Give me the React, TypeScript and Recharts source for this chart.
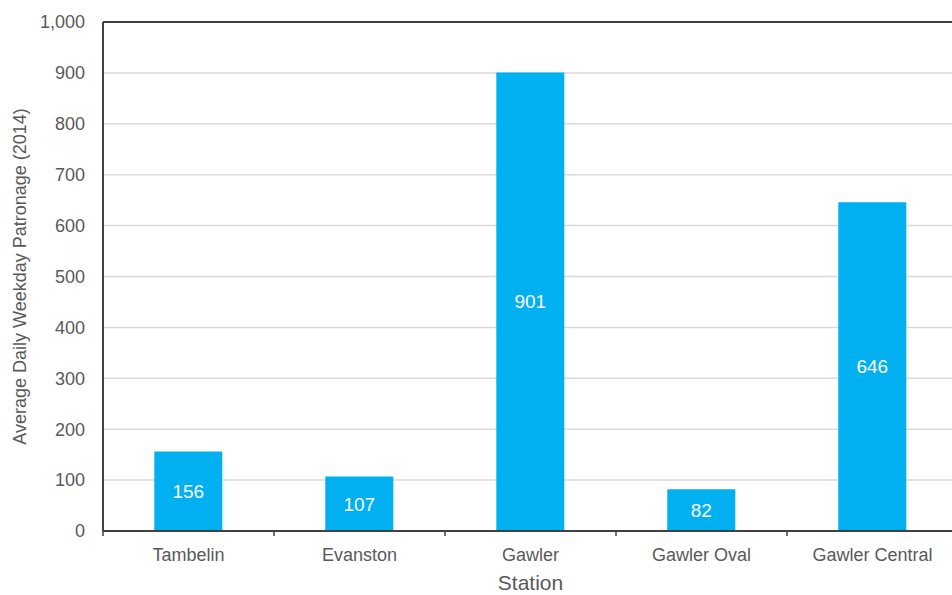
import React from 'react';
import { BarChart, Bar, XAxis, YAxis, CartesianGrid, LabelList, ReferenceLine, Label } from 'recharts';

const stations = ['Tambelin', 'Evanston', 'Gawler', 'Gawler Oval', 'Gawler Central'];
const patronage = [156, 107, 901, 82, 646];
const yTicks = [0, 100, 200, 300, 400, 500, 600, 700, 800, 900, 1000];

const data = stations.map((name, i) => ({ name, value: patronage[i] }));

const TEXT = '#595959';
const AXIS = '#404040';
const FONT = '"Liberation Sans", Arial, sans-serif';
const GAP = 17; // tickSize + tickMargin of the category axis

const YTitle = ({ viewBox }: any) => {
  const x = viewBox.x + 20;
  const y = viewBox.y + viewBox.height / 2;
  return (
    <text x={x} y={y} transform={`rotate(-90, ${x}, ${y})`} textAnchor="middle" dominantBaseline="central" fill={TEXT} fontSize={18} fontFamily={FONT}>
      Average Daily Weekday Patronage (2014)
    </text>
  );
};

// category label plus small tick marks at the band edges
const StationTick = ({ x, y, payload, index }: any) => {
  const half = payload && payload.offset ? payload.offset : 85.5;
  const axisY = y - GAP;
  return (
    <g>
      <line x1={x - half} y1={axisY} x2={x - half} y2={axisY + 5} stroke={AXIS} strokeWidth={1.5} />
      {index === stations.length - 1 && (
        <line x1={x + half} y1={axisY} x2={x + half} y2={axisY + 5} stroke={AXIS} strokeWidth={1.5} />
      )}
      <text x={x} y={y} dy="0.71em" textAnchor="middle" fill={TEXT} fontSize={18} fontFamily={FONT}>
        {payload.value}
      </text>
    </g>
  );
};

export default function App() {
  return (
    <div style={{ position: 'absolute', left: 0, top: 0, width: 952, height: 595, overflow: 'hidden', background: '#fff' }}>
      <BarChart width={960} height={595} data={data} margin={{ top: 22, right: 2, left: 0, bottom: 0 }} barCategoryGap="30%">
        <CartesianGrid horizontal vertical={false} stroke="#d9d9d9" strokeWidth={1.5} />
        <XAxis
          dataKey="name"
          height={64}
          tickLine={false}
          tickSize={6}
          tickMargin={11}
          axisLine={{ stroke: AXIS, strokeWidth: 2 }}
          tick={<StationTick />}
          interval={0}
        >
          <Label value="Station" position="insideBottom" offset={5} fill={TEXT} fontSize={21} fontFamily={FONT} />
        </XAxis>
        <YAxis
          width={103}
          domain={[0, 1000]}
          ticks={yTicks}
          interval={0}
          tickLine={false}
          tickSize={6}
          tickMargin={12}
          axisLine={{ stroke: AXIS, strokeWidth: 2 }}
          tick={{ fill: TEXT, fontSize: 18, fontFamily: FONT }}
          tickFormatter={(v: number) => v.toLocaleString('en-US')}
          label={<YTitle />}
        />
        <ReferenceLine y={1000} stroke={AXIS} strokeWidth={2} />
        <Bar dataKey="value" fill="#00b0f0" isAnimationActive={false}>
          <LabelList dataKey="value" position="center" fill="#ffffff" fontSize={19} fontFamily={FONT} />
        </Bar>
      </BarChart>
    </div>
  );
}
